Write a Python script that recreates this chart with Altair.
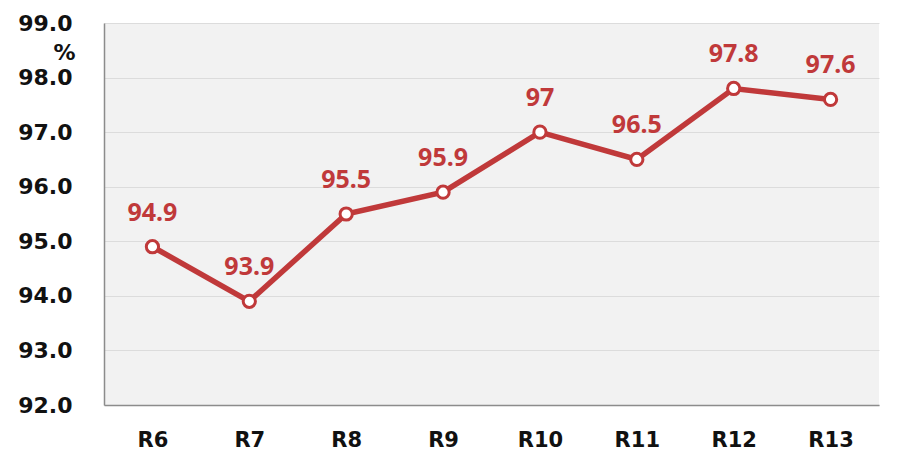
import altair as alt
import pandas as pd

categories = ["R6", "R7", "R8", "R9", "R10", "R11", "R12", "R13"]
values = [94.9, 93.9, 95.5, 95.9, 97, 96.5, 97.8, 97.6]
labels = ["94.9", "93.9", "95.5", "95.9", "97", "96.5", "97.8", "97.6"]
y_ticks = [92, 93, 94, 95, 96, 97, 98, 99]

df = pd.DataFrame({"cat": categories, "val": values, "lab": labels})

RED = "#c0393a"
AXIS_FONT = "DejaVu Sans"

x = alt.X("cat:N", sort=categories, title=None,
          scale=alt.Scale(paddingInner=0, paddingOuter=0),
          axis=alt.Axis(labelAngle=0, labelFont=AXIS_FONT, labelFontWeight="bold",
                        labelFontSize=21, labelColor="#111111", labelPadding=24,
                        ticks=False, domainColor="#8c8c8c", domainWidth=1.5, grid=False))
y = alt.Y("val:Q", title="%",
          scale=alt.Scale(domain=[92, 99], nice=False, zero=False),
          axis=alt.Axis(values=y_ticks, format=".1f", labelFont=AXIS_FONT,
                        labelFontWeight="bold", labelFontSize=22, labelColor="#111111",
                        labelPadding=32, ticks=False, domainColor="#8c8c8c", domainWidth=1.5,
                        gridColor="#dcdcdc", gridWidth=1,
                        titleAngle=0, titleFont=AXIS_FONT, titleFontWeight="bold",
                        titleFontSize=22, titleColor="#111111", titleX=-40, titleY=29,
                        titleAlign="center", titleBaseline="middle"))

base = alt.Chart(df).encode(x=x, y=y)

line = base.mark_line(color=RED, strokeWidth=5.5)
points = base.mark_point(filled=True, fill="white", stroke=RED, strokeWidth=3,
                         size=150, opacity=1, shape="circle")
text = base.mark_text(color=RED, font="Noto Sans", fontWeight="bold", fontSize=25,
                      dy=-34, baseline="middle").encode(text="lab:N")

chart = (line + points + text).properties(
    width=775, height=382,
    background="white",
    autosize=alt.AutoSizeParams(type="none"),
    padding={"left": 96, "top": 15, "right": 10, "bottom": 50},
).configure_view(fill="#f2f2f2", strokeWidth=0)

chart.save("out.html", embed_options={"renderer": "svg", "actions": False})
